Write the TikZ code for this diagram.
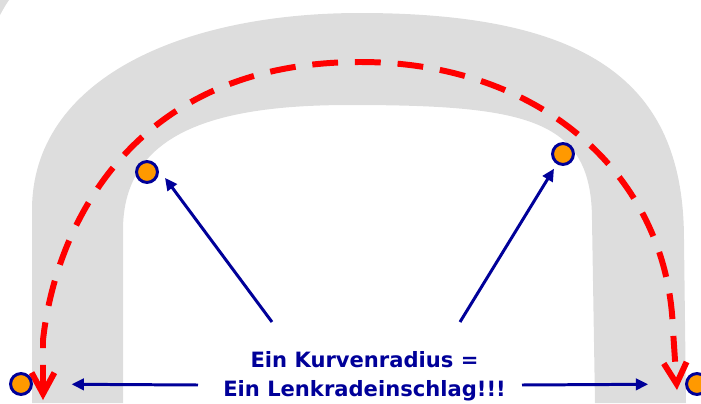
\documentclass[tikz,border=0pt]{standalone}
\usepackage{fontspec}
\newfontfamily\signfont{DejaVu Sans}
\usetikzlibrary{arrows.meta,calc}
\definecolor{RoadGray}{RGB}{221,221,221}
\definecolor{SignBlue}{RGB}{0,0,153}
\definecolor{DotOrange}{RGB}{255,153,0}

\begin{document}
\begin{tikzpicture}[x=0.02cm, y=-0.02cm,
    road/.style={fill=RoadGray, draw=none},
    track/.style={draw=red, line width=3.4pt, dash pattern=on 14.7pt off 9.6pt,
                  {Straight Barb[length=12pt,width=13pt]}-{Straight Barb[length=12pt,width=13pt]}},
    marker/.style={circle, draw=SignBlue, fill=DotOrange, line width=1.7pt,
                   minimum size=11.9pt, inner sep=0pt},
    pointer/.style={-{Triangle[length=7pt,width=6.5pt]}, draw=SignBlue, line width=1.7pt},
    caption/.style={text=SignBlue, align=center,
                    font=\signfont\bfseries\fontsize{12}{16.4}\selectfont}
]
    \useasboundingbox (0,0) rectangle (701,403);
    \clip (0,0) rectangle (701,403);

    % road
    \fill[road] (0,0) -- (9,0) .. controls (5,6) .. (0,15) -- cycle;
    \fill[road] (32,403) -- (32,210) .. controls (32,80) and (180,13) .. (360,13)
        .. controls (600,13) and (684,90) .. (684,240) -- (686,403) -- (595,403)
        -- (592,220) .. controls (592,120) and (530,105) .. (350,105)
        .. controls (220,105) and (123,130) .. (123,230) -- (123,403) -- cycle;

    % driving line
    \draw[track] (43,400) -- (43,340) .. controls (55,230) and (130,62) .. (360,62)
        .. controls (540,62) and (668,175) .. (673,330) -- (677,390);

    % markers
    \node[marker] (tl) at (147,172) {};
    \node[marker] (tr) at (563,154) {};
    \node[marker] (bl) at (21,384) {};
    \node[marker] (br) at (697,384) {};

    \node[caption, anchor=base] (msg) at (364.5,396) {Ein Kurvenradius =\\Ein Lenkradeinschlag!!!};

    \coordinate (ul) at (272,322);
    \coordinate (ur) at (460,322);
    \coordinate (hl) at (198,385);
    \coordinate (hr) at (522,385);

    \draw[pointer, shorten >=11.5pt] (ul) -- (tl.60);
    \draw[pointer, shorten >=3pt] (ur) -- (tr);
    \draw[pointer, shorten >=22pt] (hl) -- (bl);
    \draw[pointer, shorten >=21pt] (hr) -- (br);
\end{tikzpicture}
\end{document}
